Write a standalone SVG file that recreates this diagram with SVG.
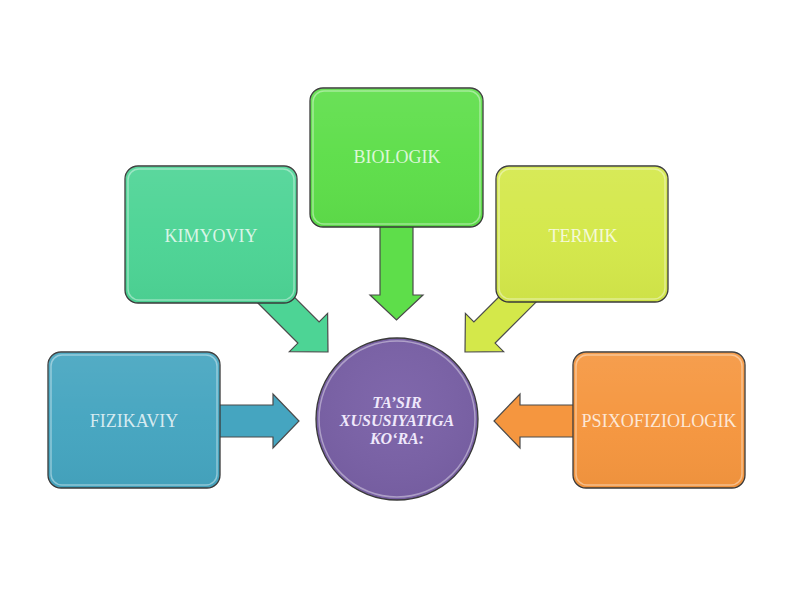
<svg xmlns="http://www.w3.org/2000/svg" width="800" height="600" viewBox="0 0 800 600">
<defs>
<linearGradient id="gloss" x1="0" y1="0" x2="0" y2="1">
<stop offset="0" stop-color="#ffffff" stop-opacity="0.08"/>
<stop offset="0.5" stop-color="#ffffff" stop-opacity="0.02"/>
<stop offset="1" stop-color="#000000" stop-opacity="0.03"/>
</linearGradient>
<radialGradient id="cgloss" cx="0.5" cy="0.4" r="0.6">
<stop offset="0" stop-color="#ffffff" stop-opacity="0.03"/>
<stop offset="1" stop-color="#000000" stop-opacity="0.05"/>
</radialGradient>
</defs>
<style>
.box{stroke:#3a3a3a;stroke-width:1.3}
.inner{fill:none;stroke:#ffffff;stroke-opacity:0.4;stroke-width:1.5}
.arrow{stroke:#4a4a4a;stroke-width:1.2;stroke-linejoin:miter}
.lbl{font-family:"Liberation Serif","DejaVu Serif",serif;font-size:18px;fill:#ffffff;fill-opacity:0.78;text-anchor:middle}
.ctr{font-family:"Liberation Serif","DejaVu Serif",serif;font-size:16px;font-style:italic;font-weight:bold;fill:#efe8fb;text-anchor:middle}
</style>
<rect width="800" height="600" fill="#ffffff"/>
<g id="connectors">
<polygon class="arrow" fill="#45a5c0" points="210,405 273,405 273,394 299,421 273,448 273,437 210,437"/>
<polygon class="arrow" fill="#f5963f" points="583,405 520,405 520,394 494,421 520,448 520,437 583,437"/>
<polygon class="arrow" fill="#5ede4a" points="380,215 413,215 413,295 423,295 396.5,320 370,295 380,295"/>
<polygon class="arrow" fill="#4dd495" points="270.6,273.4 319.1,321.9 327.6,313.4 328,352 289.4,351.6 297.9,343.1 249.4,294.6"/>
<polygon class="arrow" fill="#d4e84a" points="522.4,273.4 473.9,321.9 465.4,313.4 465,352 503.6,351.6 495.1,343.1 543.6,294.6"/>
</g>
<g id="fizikaviy">
<rect class="box" x="48" y="352" width="172" height="136" rx="13" fill="#45a5c0"/>
<rect x="48" y="352" width="172" height="136" rx="13" fill="url(#gloss)"/>
<rect class="inner" x="51" y="355" width="166" height="130" rx="11"/>
<text class="lbl" x="134" y="427">FIZIKAVIY</text>
</g>
<g id="kimyoviy">
<rect class="box" x="125" y="166" width="172" height="137" rx="13" fill="#4dd495"/>
<rect x="125" y="166" width="172" height="137" rx="13" fill="url(#gloss)"/>
<rect class="inner" x="128" y="169" width="166" height="131" rx="11"/>
<text class="lbl" x="211" y="242">KIMYOVIY</text>
</g>
<g id="biologik">
<rect class="box" x="310" y="88" width="173" height="139" rx="13" fill="#5ede4a"/>
<rect x="310" y="88" width="173" height="139" rx="13" fill="url(#gloss)"/>
<rect class="inner" x="313" y="91" width="167" height="133" rx="11"/>
<text class="lbl" x="397" y="163">BIOLOGIK</text>
</g>
<g id="termik">
<rect class="box" x="496" y="166" width="172" height="136" rx="13" fill="#d4e84a"/>
<rect x="496" y="166" width="172" height="136" rx="13" fill="url(#gloss)"/>
<rect class="inner" x="499" y="169" width="166" height="130" rx="11"/>
<text class="lbl" x="583" y="242">TERMIK</text>
</g>
<g id="psixofiziologik">
<rect class="box" x="573" y="352" width="172" height="136" rx="13" fill="#f5963f"/>
<rect x="573" y="352" width="172" height="136" rx="13" fill="url(#gloss)"/>
<rect class="inner" x="576" y="355" width="166" height="130" rx="11"/>
<text class="lbl" x="659" y="427" textLength="155" lengthAdjust="spacingAndGlyphs">PSIXOFIZIOLOGIK</text>
</g>
<g id="center">
<circle class="box" cx="397" cy="419" r="81" fill="#7b62a8"/>
<circle cx="397" cy="419" r="81" fill="url(#cgloss)"/>
<circle class="inner" cx="397" cy="419" r="78"/>
<text class="ctr" x="397" y="408">TA’SIR</text>
<text class="ctr" x="397" y="426">XUSUSIYATIGA</text>
<text class="ctr" x="397" y="444">KO‘RA:</text>
</g>
</svg>
